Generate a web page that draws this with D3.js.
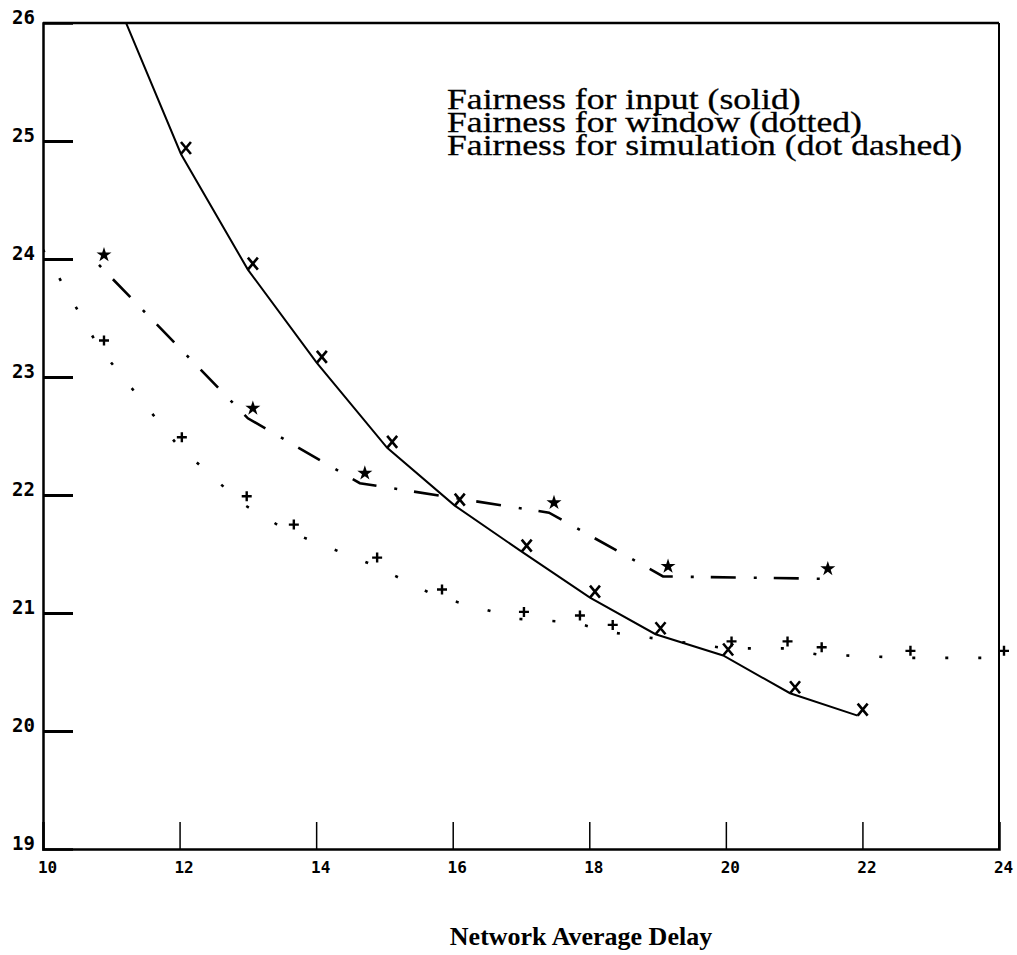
<!DOCTYPE html>
<html>
<head>
<meta charset="utf-8">
<script src="https://cdn.jsdelivr.net/npm/d3@7"></script>
<style>
  html, body { margin: 0; padding: 0; background: #fff; }
  svg { display: block; }
</style>
</head>
<body>
<svg id="chart" width="1017" height="955"></svg>
<script>
// ---- data ----
const xTickValues = [10, 12, 14, 16, 18, 20, 22, 24];
const yTickValues = [19, 20, 21, 22, 23, 24, 25, 26];

// Fairness for input (solid, x markers)
const inputX = [11.0, 12.02, 13.0, 14.01, 15.04, 16.03, 17.01, 18.01, 18.97, 19.96, 20.94, 21.93];
const inputY = [26.3, 24.89, 23.91, 23.12, 22.40, 21.91, 21.52, 21.13, 20.82, 20.64, 20.32, 20.13];
const inputMarked = [false, true, true, true, true, true, true, true, true, true, true, true];

// Fairness for window (dotted, + markers)
const windowX = [10.0, 10.82, 11.96, 12.91, 13.60, 14.82, 15.77, 16.97, 17.79, 18.27, 20.01, 20.83, 21.33, 22.63, 24.0];
const windowY = [24.08, 23.25, 22.43, 21.93, 21.69, 21.41, 21.14, 20.95, 20.92, 20.84, 20.70, 20.70, 20.65, 20.62, 20.62];
const windowMarked = [false, true, true, true, true, true, true, true, true, true, true, true, true, true, true];

// Fairness for simulation (dot dashed, star markers)
const simX = [10.82, 13.0, 14.64, 17.41, 19.08, 21.42];
const simY = [23.95, 22.65, 22.10, 21.85, 21.31, 21.29];

const legendLines = [
  "Fairness for input (solid)",
  "Fairness for window (dotted)",
  "Fairness for simulation (dot dashed)"
];
const xTitle = "Network Average Delay";

// ---- layout ----
const svg = d3.select("#chart");
const mLeft = 43, mRight = 999, mTop = 23, mBottom = 849;
const x = d3.scaleLinear().domain([10, 24]).range([mLeft, mRight]);
const y = d3.scaleLinear().domain([19, 26]).range([mBottom, mTop]);

svg.append("defs").append("clipPath").attr("id", "plotClip")
  .append("rect").attr("x", mLeft).attr("y", mTop).attr("width", mRight - mLeft).attr("height", mBottom - mTop);

// frame
svg.append("line").attr("x1", mLeft).attr("x2", mRight).attr("y1", mTop).attr("y2", mTop)
  .attr("stroke", "#000").attr("stroke-width", 2.5);
svg.append("line").attr("x1", mRight).attr("x2", mRight).attr("y1", mTop).attr("y2", mBottom)
  .attr("stroke", "#000").attr("stroke-width", 2);

// y axis
const yAxis = d3.axisLeft(y).tickValues(yTickValues).tickSize(-30).tickPadding(6)
  .tickFormat(d3.format("d"));
const gy = svg.append("g").attr("transform", `translate(${mLeft},0)`).call(yAxis);
gy.select(".domain").attr("stroke", "#000").attr("stroke-width", 2.5);
gy.selectAll(".tick line").attr("stroke", "#000").attr("stroke-width", 3)
  .filter(d => d === 19 || d === 26).remove();
gy.selectAll(".tick text")
  .attr("font-family", "'DejaVu Sans Mono', monospace")
  .attr("font-weight", "bold").attr("font-size", 19).attr("fill", "#000")
  .attr("dy", "0.02em").attr("x", -8);

// x axis
const xAxis = d3.axisBottom(x).tickValues(xTickValues).tickSize(-27).tickPadding(0)
  .tickFormat(d3.format("d"));
const gx = svg.append("g").attr("transform", `translate(0,${mBottom})`).call(xAxis);
gx.select(".domain").attr("stroke", "#000").attr("stroke-width", 2.5);
gx.selectAll(".tick line").attr("stroke", "#000").attr("stroke-width", 1.5)
  .filter(d => d === 10 || d === 24).remove();
gx.selectAll(".tick text")
  .attr("font-family", "'DejaVu Sans Mono', monospace")
  .attr("font-weight", "bold").attr("font-size", 16).attr("fill", "#000")
  .attr("y", 13).attr("dy", "0.71em").attr("dx", 4);

// lines
const plot = svg.append("g").attr("clip-path", "url(#plotClip)");
const lineGen = d3.line().x(d => x(d[0])).y(d => y(d[1]));

const inputPts = inputX.map((v, i) => [v, inputY[i]]);
const windowPts = windowX.map((v, i) => [v, windowY[i]]);
const simPts = simX.map((v, i) => [v, simY[i]]);

plot.append("path").datum(inputPts).attr("d", lineGen)
  .attr("fill", "none").attr("stroke", "#000").attr("stroke-width", 2);
plot.append("path").datum(windowPts).attr("d", lineGen)
  .attr("fill", "none").attr("stroke", "#000").attr("stroke-width", 2.6)
  .attr("stroke-dasharray", "3,30");
plot.append("path").datum(simPts).attr("d", lineGen)
  .attr("fill", "none").attr("stroke", "#000").attr("stroke-width", 2.6)
  .attr("stroke-dasharray", "3,17,25,18");

// markers (drawn slightly up-right of the vertex, as in the reference)
const mk = svg.append("g");
mk.selectAll("path.times").data(inputPts.filter((d, i) => inputMarked[i])).join("path")
  .attr("class", "times")
  .attr("transform", d => `translate(${x(d[0]) + 5},${y(d[1]) - 6})`)
  .attr("d", "M-5,-6L5,6M5,-6L-5,6")
  .attr("stroke", "#000").attr("stroke-width", 2.6).attr("fill", "none");
mk.selectAll("path.plus").data(windowPts.filter((d, i) => windowMarked[i])).join("path")
  .attr("class", "plus")
  .attr("transform", d => `translate(${x(d[0]) + 5},${y(d[1]) - 7})`)
  .attr("d", "M-5,0L5,0M0,-5L0,5")
  .attr("stroke", "#000").attr("stroke-width", 2.4).attr("fill", "none");
mk.selectAll("path.star").data(simPts).join("path")
  .attr("class", "star")
  .attr("transform", d => `translate(${x(d[0]) + 5},${y(d[1]) - 10})`)
  .attr("d", d3.symbol().type(d3.symbolStar).size(70))
  .attr("fill", "#000");

// legend text (the scanned original is slightly stretched horizontally)
svg.append("g").attr("transform", "translate(447,0) scale(1.23,1)")
  .selectAll("text").data(legendLines).join("text")
  .attr("x", 0).attr("y", (d, i) => 109 + i * 23)
  .attr("font-family", "'Liberation Serif', 'Times New Roman', serif")
  .attr("font-size", 29).attr("fill", "#000")
  .attr("stroke", "#000").attr("stroke-width", 0.3)
  .text(d => d);

// x title
svg.append("text").attr("x", 581).attr("y", 945).attr("text-anchor", "middle")
  .attr("font-family", "'Liberation Serif', 'Times New Roman', serif")
  .attr("font-weight", "bold").attr("font-size", 26).attr("fill", "#000")
  .text(xTitle);
</script>
</body>
</html>
